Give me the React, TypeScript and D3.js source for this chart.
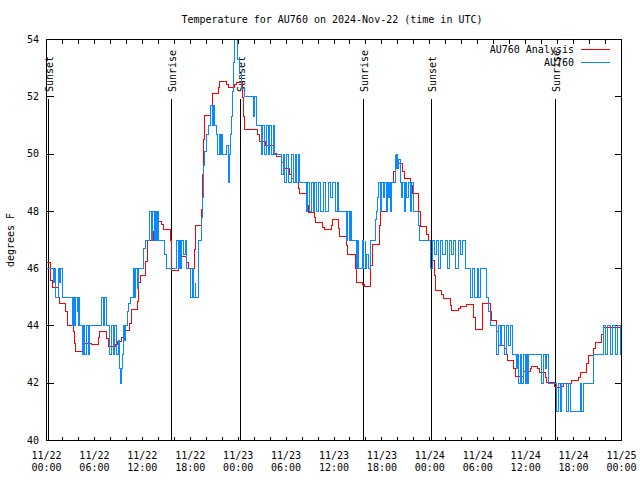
import { useRef, useEffect } from 'react'
import * as d3 from 'd3'

const WIDTH = 640
const HEIGHT = 480
const PLOT = { left: 46.5, right: 621.5, top: 39.5, bottom: 440.5 }
const FONT = '"DejaVu Sans Mono", "Liberation Mono", monospace'

const TITLE = 'Temperature for AU760 on 2024-Nov-22 (time in UTC)'
const Y_LABEL = 'degrees F'
const SERIES_NAMES = ['AU760 Analysis', 'AU760']
const SERIES_COLORS = ['#ff0000', '#0a88ff']

const Y_TICKS = [40, 42, 44, 46, 48, 50, 52, 54]
const X_TICK_HOURS = [0, 6, 12, 18, 24, 30, 36, 42, 48, 54, 60, 66, 72]
const X_TICK_DATES = ['11/22', '11/22', '11/22', '11/22', '11/23', '11/23', '11/23', '11/23', '11/24', '11/24', '11/24', '11/24', '11/25']
const X_TICK_TIMES = ['00:00', '06:00', '12:00', '18:00', '00:00', '06:00', '12:00', '18:00', '00:00', '06:00', '12:00', '18:00', '00:00']

const EVENT_NAMES = ['Sunset', 'Sunrise', 'Sunset', 'Sunrise', 'Sunset', 'Sunrise']
const EVENT_HOURS = [0.2, 15.67, 24.3, 39.67, 48.2, 63.73]

// analysis: [hours since 11/22 00:00 UTC, degrees F]
const analysisDay1: [number, number][] = [
  [0, 46.2], [0.54, 45.6], [0.71, 45.35], [1.46, 45.0], [1.67, 44.8], [2.42, 44.5], [2.63, 44.0], [3.34, 43.8],
  [3.55, 43.4], [3.67, 43.1], [4.51, 43.2], [4.67, 43.4], [5.63, 43.35], [6.47, 43.6], [6.68, 43.8], [7.51, 43.55],
  [7.72, 43.27], [8.68, 43.35], [8.85, 43.44], [9.39, 43.6], [9.69, 43.85], [10.44, 44.1], [10.65, 44.57], [11.4, 44.85],
  [11.57, 45.5], [11.8, 45.77], [12.44, 46.24], [12.65, 47.0], [13.44, 47.3], [13.65, 47.66], [14.41, 47.55], [14.7, 47.37],
  [15.54, 47.0], [15.66, 45.92], [16.5, 46.11], [16.79, 46.44], [17.54, 46.2], [17.75, 46.0], [18.5, 46.67], [18.71, 47.51],
  [19.42, 48.07], [19.55, 49.3], [19.63, 50.52], [19.84, 51.34], [20.55, 51.69], [20.8, 52.13], [21.51, 52.33], [21.72, 52.53],
  [22.55, 52.42], [22.76, 52.31], [23.6, 52.42], [23.81, 52.51],
]
const analysisDay2: [number, number][] = [
  [24.56, 51.98], [24.64, 51.3], [24.85, 50.86], [26.43, 50.7], [26.73, 50.45], [27.48, 50.3], [28.61, 50.03], [28.82, 49.92],
  [29.45, 49.7], [29.65, 49.51], [30.49, 49.3], [30.7, 49.15], [30.91, 49.0], [31.53, 48.8], [31.74, 48.63], [32.58, 48.2],
  [32.79, 47.95], [33.54, 47.8], [33.71, 47.6], [34.58, 47.45], [34.79, 47.35], [35.63, 47.5], [35.79, 47.72], [36.55, 47.4],
  [36.75, 47.12], [37.59, 46.8], [37.72, 46.48], [38.63, 46.0], [38.84, 45.52], [39.55, 45.45], [39.76, 45.36], [40.59, 46.12],
  [40.8, 46.86], [41.64, 47.5], [41.85, 48.01], [42.73, 48.5], [42.94, 49.0], [43.44, 49.4], [43.65, 49.68], [44.61, 49.4],
  [44.77, 49.16], [45.61, 48.9], [45.82, 48.63], [46.57, 48.0], [46.78, 47.47], [47.62, 47.2], [47.83, 47.0],
]
const analysisDay3: [number, number][] = [
  [48.04, 46.59], [48.37, 46.3], [48.58, 45.77], [48.7, 45.22], [49.49, 45.1], [49.7, 44.96], [50.54, 44.7], [50.75, 44.53],
  [51.58, 44.6], [51.79, 44.69], [52.63, 44.75], [53.46, 44.3], [53.67, 43.89], [54.59, 44.78], [55.55, 44.5], [55.76, 44.2],
  [56.39, 43.8], [56.6, 43.33], [57.35, 43.2], [57.64, 43.0], [57.77, 42.8], [58.48, 42.5], [58.69, 42.22], [59.73, 42.41],
  [60.57, 42.5], [60.78, 42.6], [61.48, 42.5], [61.69, 42.39], [62.45, 42.2], [62.66, 42.04], [63.57, 41.9], [63.78, 41.84],
  [64.54, 41.9], [64.74, 41.98], [65.58, 42.0], [65.79, 42.08], [66.62, 42.2], [66.83, 42.36], [67.66, 42.7], [67.87, 42.98],
  [68.5, 43.2], [68.71, 43.41], [69.55, 43.7], [69.75, 43.93], [71.84, 43.73], [72, 43.73],
]

// station observations: [hours since 11/22 00:00 UTC, degrees F]
const obsDay1: [number, number][] = [
  [0, 46], [0.92, 45.5], [1.02, 46], [1.16, 45], [1.46, 46], [1.58, 45.5], [1.75, 46], [1.96, 45],
  [3.21, 44], [3.34, 45], [3.46, 44], [3.63, 45], [3.84, 44.5], [3.95, 44], [4.05, 45], [4.17, 44],
  [4.51, 43], [4.62, 44], [4.8, 43], [5.01, 44], [5.22, 43], [5.34, 44],
  [6.85, 45], [7.1, 44], [7.31, 45], [7.55, 44],
  [7.93, 43], [8.14, 44], [8.35, 43], [8.56, 44], [8.77, 43], [8.98, 43.5], [9.19, 42.5], [9.3, 42], [9.45, 42.5], [9.52, 43],
  [9.6, 44], [9.81, 43.5], [9.94, 44], [10.1, 44.5], [10.23, 44.8], [10.5, 45],
  [10.86, 46], [11.0, 45], [11.2, 46], [11.35, 45.3], [11.5, 46], [12.19, 46.7], [12.4, 47],
  [12.94, 48], [13.15, 47], [13.3, 48], [13.49, 47], [13.65, 48], [13.78, 47], [13.9, 48], [14.05, 47],
  [14.82, 46.5], [15.03, 46],
  [16.3, 47], [16.5, 46], [16.62, 47], [16.75, 46], [16.91, 47], [17.2, 46.5], [17.41, 47], [17.54, 46],
  [18.04, 45], [18.25, 46], [18.46, 45], [18.6, 45.5], [18.71, 45], [19.0, 47],
  [19.42, 47.8], [19.55, 48.5], [19.63, 49.6], [19.84, 50.1], [20.05, 50.7], [20.34, 51.0], [20.55, 51.7], [20.75, 51.0],
  [20.88, 51.7], [21.09, 51.0], [21.3, 50.7], [21.45, 50.0], [21.6, 50.7], [21.8, 50.0], [21.95, 50.7], [22.1, 50.0],
  [22.55, 50.3], [22.76, 49.5], [22.85, 49.0], [22.97, 50.0], [23.05, 50.7], [23.2, 51.3], [23.3, 52.2], [23.45, 53.2],
  [23.55, 54.5], [23.89, 53.3],
]
const obsDay2: [number, number][] = [
  [24.14, 52.8], [24.43, 52.3], [24.85, 52.0], [25.89, 51.3], [26.1, 52.0], [26.31, 51.0],
  [26.86, 50.0], [27.07, 51.0], [27.27, 50.0], [27.56, 51.0], [27.78, 50.0], [27.98, 51.0], [28.19, 50.0], [28.4, 51.0], [28.61, 50.0],
  [29.45, 49.3], [29.65, 50], [29.86, 49], [30.07, 50], [30.36, 49], [30.7, 50], [30.91, 49], [31.12, 50], [31.33, 49], [31.53, 50], [31.7, 49],
  [32.58, 48], [32.7, 49], [32.99, 48], [33.2, 49], [33.41, 48], [33.62, 49], [33.83, 48], [34.12, 49], [34.37, 48], [34.66, 49],
  [34.95, 48], [35.29, 49], [35.58, 48.5], [35.83, 49], [36.13, 48], [36.42, 49], [36.6, 48],
  [37.59, 47], [37.72, 48], [37.88, 47], [38.05, 48], [38.13, 47],
  [38.76, 46], [38.9, 47], [39.05, 46],
  [39.55, 47], [39.68, 46], [39.89, 47], [40.0, 46], [40.1, 46.5], [40.3, 46], [40.51, 47], [41.14, 47.7],
  [41.35, 48], [41.47, 48.5], [41.56, 49], [41.77, 48], [41.98, 49], [42.18, 48.5], [42.31, 49], [42.52, 48], [42.66, 49],
  [42.81, 48.5], [43.0, 49], [43.1, 48], [43.23, 49],
  [43.65, 50], [43.75, 49.5], [43.86, 50], [44.0, 49.5], [44.07, 49.8], [44.27, 49], [44.4, 48.5], [44.61, 49], [44.77, 48],
  [44.9, 49], [45.11, 48.5], [45.32, 49], [45.53, 48], [45.73, 49], [46.0, 48], [46.6, 47.5], [46.69, 47],
]
const obsDay3: [number, number][] = [
  [48.04, 46], [48.32, 47], [48.57, 46.5], [48.87, 47], [49.08, 46], [49.37, 47], [49.62, 46.5], [49.91, 47], [50.2, 46],
  [50.45, 47], [50.75, 46.5], [50.96, 47], [51.25, 46], [51.58, 47], [51.88, 46.5], [52.13, 47], [52.42, 46],
  [53.1, 45], [53.36, 46], [53.65, 45], [53.94, 46], [54.05, 45], [54.3, 46],
  [55.13, 45], [55.34, 44.5], [55.64, 44],
  [56.39, 43], [56.58, 44], [56.79, 43.3], [57.01, 44], [57.31, 43], [57.56, 44], [57.85, 43.3], [58.14, 44], [58.4, 43],
  [58.89, 42.5], [59.0, 43], [59.1, 42], [59.31, 43], [59.52, 42], [59.73, 43], [59.94, 42], [60.15, 43], [60.28, 42], [60.4, 43],
  [62.03, 42], [62.24, 43], [62.45, 42.5], [62.65, 43], [62.87, 42],
  [63.9, 41], [64.11, 42], [64.33, 41], [64.54, 42], [65.15, 41], [65.37, 42], [65.58, 41], [66.84, 42], [67.05, 41], [67.25, 42],
  [68.51, 43], [69.76, 44], [69.97, 43], [70.26, 44], [70.59, 43], [70.89, 44], [71.22, 43], [71.51, 44], [71.85, 43], [72, 43],
]

export default function App() {
  const svgRef = useRef<SVGSVGElement>(null)

  useEffect(() => {
    if (!svgRef.current) return
    const svg = d3.select(svgRef.current)
    svg.selectAll('*').remove()

    const x = d3.scaleLinear().domain([0, 72]).range([PLOT.left, PLOT.right])
    const y = d3.scaleLinear().domain([40, 54]).range([PLOT.bottom, PLOT.top])
    // snap to pixel centres so the 1px steps stay sharp, like the gnuplot png
    const px = (v: number) => Math.floor(v) + 0.5

    svg.append('rect').attr('width', WIDTH).attr('height', HEIGHT).attr('fill', '#fff')

    svg
      .append('defs')
      .append('clipPath')
      .attr('id', 'plot-clip')
      .append('rect')
      .attr('x', PLOT.left)
      .attr('y', PLOT.top)
      .attr('width', PLOT.right - PLOT.left)
      .attr('height', PLOT.bottom - PLOT.top)

    // ticks, pointing inward on all four sides
    const minorHours = d3.range(0, 73, 2)
    const styleAxis = (g: d3.Selection<SVGGElement, unknown, null, undefined>) => {
      g.select('.domain').remove()
      g.attr('font-family', FONT).attr('font-size', 10)
      g.selectAll('line').attr('stroke', '#000').attr('shape-rendering', 'crispEdges')
      g.selectAll('text').attr('fill', '#000')
    }
    svg
      .append('g')
      .attr('transform', `translate(0,${PLOT.bottom})`)
      .call(d3.axisBottom(x).tickValues(minorHours).tickSize(-4).tickFormat(() => '').offset(0))
      .call(styleAxis)
    svg
      .append('g')
      .attr('transform', `translate(0,${PLOT.top})`)
      .call(d3.axisTop(x).tickValues(minorHours).tickSize(-4).tickFormat(() => '').offset(0))
      .call(styleAxis)
    svg
      .append('g')
      .attr('transform', `translate(${PLOT.left},0)`)
      .call(d3.axisLeft(y).tickValues(Y_TICKS).tickSize(-7).tickPadding(7.5).tickFormat(d3.format('d')).offset(0))
      .call(styleAxis)
    svg
      .append('g')
      .attr('transform', `translate(${PLOT.right},0)`)
      .call(d3.axisRight(y).tickValues(Y_TICKS).tickSize(-7).tickFormat(() => '').offset(0))
      .call(styleAxis)

    // two-line x labels
    const xl = svg
      .append('g')
      .attr('font-family', FONT)
      .attr('font-size', 10)
      .attr('text-anchor', 'middle')
      .attr('fill', '#000')
    xl.selectAll('text.date')
      .data(X_TICK_HOURS)
      .join('text')
      .attr('class', 'date')
      .attr('x', (h) => x(h))
      .attr('y', 459)
      .text((_h, i) => X_TICK_DATES[i])
    xl.selectAll('text.time')
      .data(X_TICK_HOURS)
      .join('text')
      .attr('class', 'time')
      .attr('x', (h) => x(h))
      .attr('y', 471)
      .text((_h, i) => X_TICK_TIMES[i])

    // sunrise / sunset markers
    const ev = svg.append('g')
    ev.selectAll('line')
      .data(EVENT_HOURS)
      .join('line')
      .attr('x1', (h) => px(x(h)))
      .attr('x2', (h) => px(x(h)))
      .attr('y1', 99)
      .attr('y2', PLOT.bottom)
      .attr('stroke', '#000')
      .attr('shape-rendering', 'crispEdges')
    ev.selectAll('text')
      .data(EVENT_HOURS)
      .join('text')
      .attr('transform', (h) => `translate(${Math.floor(x(h)) + 1},92) rotate(-90)`)
      .attr('font-family', FONT)
      .attr('font-size', 10)
      .attr('dominant-baseline', 'central')
      .attr('fill', '#000')
      .text((_h, i) => EVENT_NAMES[i])

    // series
    const line = d3
      .line<[number, number]>()
      .x((d) => px(x(d[0])))
      .y((d) => px(y(d[1])))
      .curve(d3.curveStepAfter)
    const series = [
      [...analysisDay1, ...analysisDay2, ...analysisDay3],
      [...obsDay1, ...obsDay2, ...obsDay3],
    ]
    svg
      .append('g')
      .attr('clip-path', 'url(#plot-clip)')
      .selectAll('path')
      .data(series)
      .join('path')
      .attr('d', (d) => line(d))
      .attr('fill', 'none')
      .attr('stroke', (_d, i) => SERIES_COLORS[i])
      .attr('stroke-width', 1)
      .attr('shape-rendering', 'crispEdges')

    // frame
    svg
      .append('rect')
      .attr('x', PLOT.left)
      .attr('y', PLOT.top)
      .attr('width', PLOT.right - PLOT.left)
      .attr('height', PLOT.bottom - PLOT.top)
      .attr('fill', 'none')
      .attr('stroke', '#000')
      .attr('shape-rendering', 'crispEdges')

    // legend
    const lg = svg.append('g').attr('font-family', FONT).attr('font-size', 10)
    SERIES_NAMES.forEach((name, i) => {
      const ly = 49.5 + i * 13
      lg.append('text')
        .attr('x', 574)
        .attr('y', ly)
        .attr('text-anchor', 'end')
        .attr('dominant-baseline', 'central')
        .attr('fill', '#000')
        .text(name)
      lg.append('line')
        .attr('x1', 581)
        .attr('x2', 610)
        .attr('y1', ly)
        .attr('y2', ly)
        .attr('stroke', SERIES_COLORS[i])
        .attr('shape-rendering', 'crispEdges')
    })

    // title and y label
    svg
      .append('text')
      .attr('x', 332)
      .attr('y', 23)
      .attr('text-anchor', 'middle')
      .attr('font-family', FONT)
      .attr('font-size', 10)
      .attr('fill', '#000')
      .text(TITLE)
    svg
      .append('text')
      .attr('transform', 'translate(10,240) rotate(-90)')
      .attr('text-anchor', 'middle')
      .attr('dominant-baseline', 'central')
      .attr('font-family', FONT)
      .attr('font-size', 10)
      .attr('fill', '#000')
      .text(Y_LABEL)
  }, [])

  return (
    <svg
      ref={svgRef}
      width={WIDTH}
      height={HEIGHT}
      style={{ position: 'absolute', left: 0, top: 0, display: 'block' }}
    />
  )
}
